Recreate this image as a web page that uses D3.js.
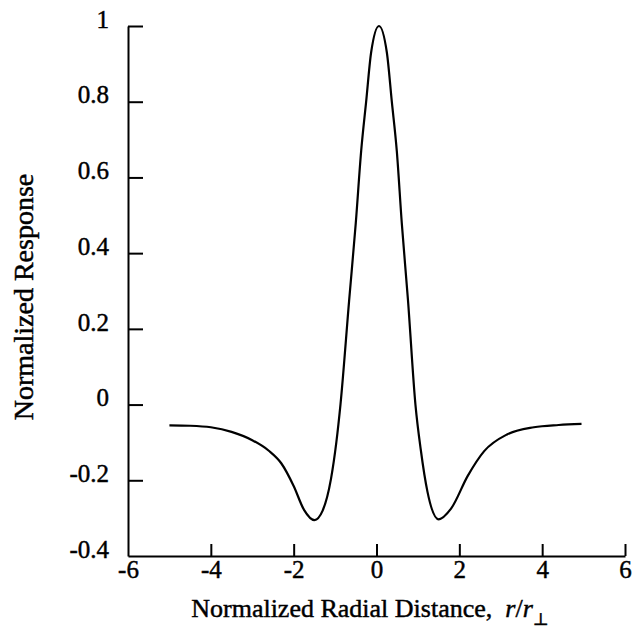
<!DOCTYPE html>
<html>
<head>
<meta charset="utf-8">
<script src="https://cdn.jsdelivr.net/npm/d3@7"></script>
<style>
  body { margin: 0; background: #fff; }
  svg text { font-family: "Liberation Serif", "DejaVu Serif", serif; fill: #000; stroke: #000; stroke-width: 0.45px; }
</style>
</head>
<body>
<div id="chart"></div>
<script>
// hodnoty (x = r/r_perp, y = normalizovana odezva)
const radialDistance = [-5, -4.5, -4, -3.5, -3, -2.6, -2.3, -2, -1.75, -1.5, -1.3, -1.1, -0.97, -0.87,
    -0.66, -0.5, -0.37, -0.25, -0.13, 0.06, 0.25, 0.37, 0.49, 0.61, 0.76, 0.94, 1.07, 1.23, 1.5,
    1.8, 2.2, 2.6, 3.15, 3.8, 4.4, 4.95];
const response = [-0.055, -0.056, -0.06, -0.072, -0.094, -0.122, -0.155, -0.215, -0.278, -0.305, -0.28, -0.197, -0.1, 0.0,
    0.276, 0.48, 0.67, 0.8, 0.93, 1.0, 0.93, 0.8, 0.67, 0.48, 0.276, 0.0, -0.12, -0.23, -0.303,
    -0.275, -0.189, -0.123, -0.079, -0.06, -0.054, -0.051];

const xTicks = [-6, -4, -2, 0, 2, 4, 6];
const yTicks = [-0.4, -0.2, 0, 0.2, 0.4, 0.6, 0.8, 1];
const yTickLabels = ["-0.4", "-0.2", "0", "0.2", "0.4", "0.6", "0.8", "1"];

const width = 634, height = 635;
const margin = { left: 128, right: 9, top: 26, bottom: 79 };

const svg = d3.select("#chart").append("svg")
    .attr("width", width)
    .attr("height", height);

const x = d3.scaleLinear().domain([-6, 6]).range([margin.left, width - margin.right]);
const y = d3.scaleLinear().domain([-0.4, 1]).range([height - margin.bottom, margin.top]);

// osa x - ticky smeruji nahoru
const xAxis = d3.axisBottom(x).tickValues(xTicks).tickSizeInner(-12).tickSizeOuter(0).tickPadding(10)
    .tickFormat(d => String(d));
const gx = svg.append("g")
    .attr("transform", `translate(0,${y(-0.4)})`)
    .call(xAxis);
gx.select(".domain").attr("stroke", "#000").attr("stroke-width", 2);
gx.selectAll(".tick line").attr("stroke", "#000").attr("stroke-width", 2);
gx.selectAll(".tick").filter(d => d === -6).select("line").remove();
gx.selectAll(".tick text")
    .attr("font-size", 25)
    .attr("dy", null)
    .attr("y", 22)
    .attr("font-family", '"Liberation Serif", serif');

// osa y - ticky smeruji doprava, popisky sedi nad tickem
const yAxis = d3.axisLeft(y).tickValues(yTicks).tickSizeInner(-15).tickSizeOuter(0).tickPadding(19)
    .tickFormat((d, i) => yTickLabels[i]);
const gy = svg.append("g")
    .attr("transform", `translate(${x(-6)},0)`)
    .call(yAxis);
gy.select(".domain").attr("stroke", "#000").attr("stroke-width", 2);
gy.selectAll(".tick line").attr("stroke", "#000").attr("stroke-width", 2);
gy.selectAll(".tick").filter(d => d === -0.4).select("line").remove();
gy.selectAll(".tick text")
    .attr("font-size", 25)
    .attr("dy", "0.05em")
    .attr("font-family", '"Liberation Serif", serif');

// krivka
const points = radialDistance.map((d, i) => [d, response[i]]);
const line = d3.line()
    .x(d => x(d[0]))
    .y(d => y(d[1]))
    .curve(d3.curveMonotoneX);

svg.append("path")
    .datum(points)
    .attr("d", line)
    .attr("fill", "none")
    .attr("stroke", "#000")
    .attr("stroke-width", 2.2);

// popisky os
const xTitle = svg.append("text")
    .attr("x", 370)
    .attr("y", 617)
    .attr("text-anchor", "middle")
    .attr("font-size", 26);
xTitle.append("tspan").text("Normalized Radial Distance,\u00a0\u00a0");
xTitle.append("tspan").attr("font-style", "italic").text("r");
xTitle.append("tspan").text("/");
xTitle.append("tspan").attr("font-style", "italic").text("r");
xTitle.append("tspan").attr("font-size", 17).attr("dy", 8).text("\u22a5");

svg.append("text")
    .attr("transform", "translate(33,297) rotate(-90)")
    .attr("text-anchor", "middle")
    .attr("font-size", 28)
    .text("Normalized Response");
</script>
</body>
</html>
